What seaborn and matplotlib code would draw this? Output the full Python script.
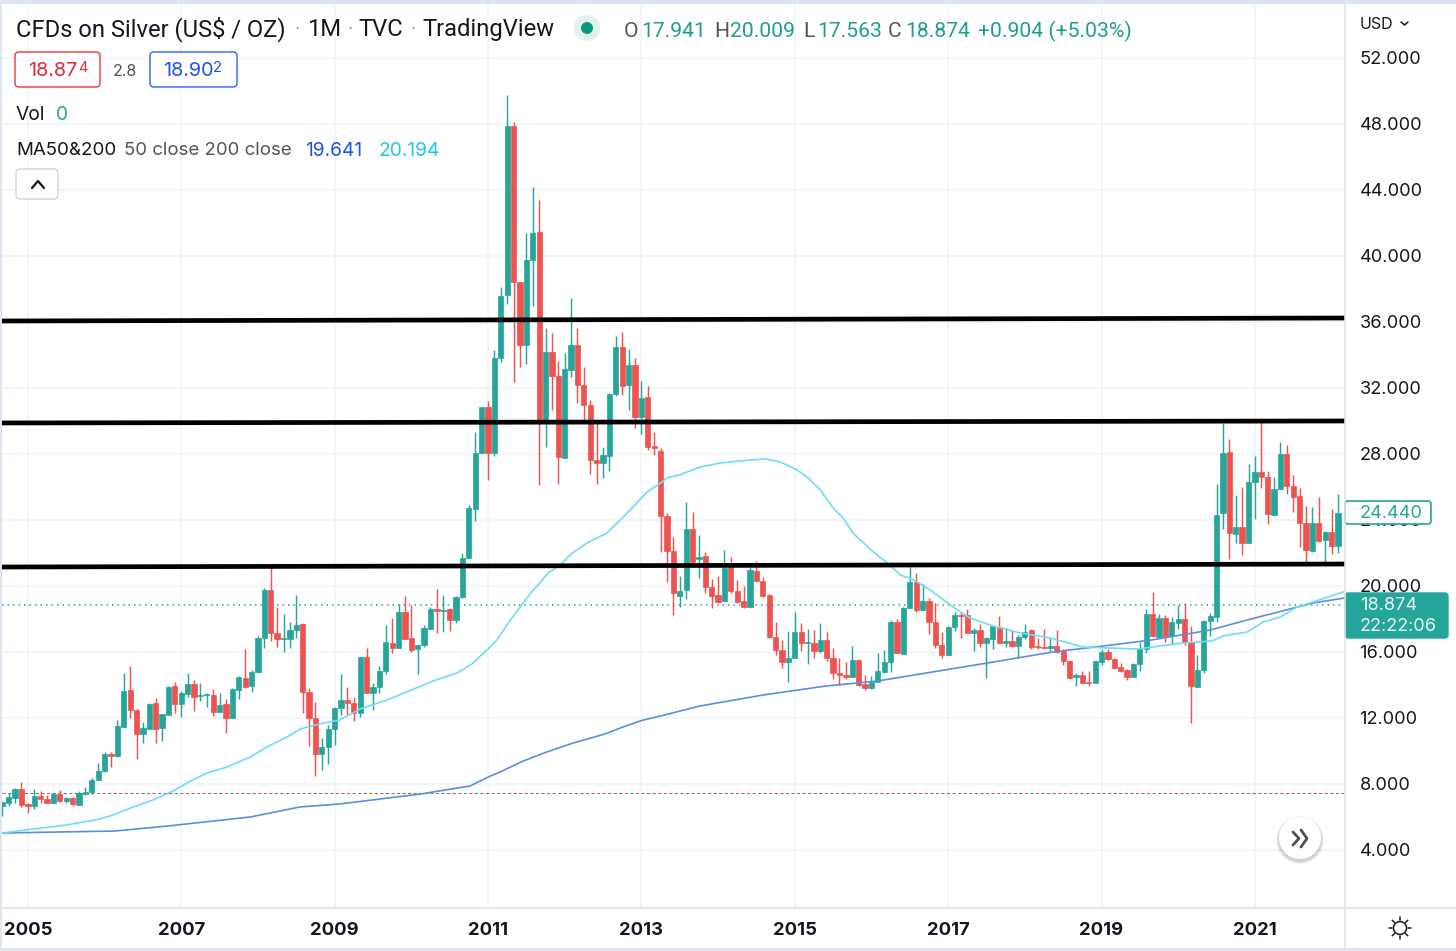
import numpy as np
import pandas as pd
import matplotlib
matplotlib.use("Agg")
import matplotlib.pyplot as plt
from matplotlib.patches import Rectangle, FancyBboxPatch, Circle
import seaborn as sns

# monthly candles, first one is Sep 2004
opens = [6.66,6.83,7.13,7.67,6.77,6.69,7.25,7.07,6.85,7.39,
         6.97,7.15,6.75,7.37,7.51,8.22,8.81,9.84,9.72,11.47,
         13.67,12.48,11.03,11.33,12.89,11.39,12.20,13.94,12.87,13.45,
         14.06,13.33,13.37,13.41,12.38,12.85,12.02,13.70,14.44,13.94,
         14.77,16.85,19.76,17.17,16.79,16.81,17.33,17.67,13.55,11.98,
         9.82,10.22,11.32,12.61,13.09,12.89,12.29,15.72,13.54,13.86,
         14.85,16.54,16.26,18.44,16.85,16.16,16.40,17.37,18.58,18.46,
         18.58,17.94,19.31,21.67,24.66,28.04,30.87,28.04,33.84,37.66,
         47.88,38.45,34.59,39.78,41.43,29.90,34.16,32.75,27.74,33.09,
         34.59,32.18,30.97,27.64,27.44,27.90,31.64,34.49,32.18,33.38,
         30.22,31.44,28.49,28.20,24.24,22.12,19.42,19.76,23.44,21.64,
         21.80,19.92,19.44,19.09,21.17,19.70,19.11,18.75,20.93,20.31,
         19.46,16.93,16.12,15.38,15.62,17.22,16.53,16.57,16.06,16.73,
         15.66,14.75,14.61,14.47,15.52,14.04,13.80,14.20,14.79,15.38,
         17.84,15.88,18.65,20.26,18.54,19.11,17.84,16.42,15.84,17.49,
         18.26,18.22,17.17,17.31,16.56,16.79,17.51,16.56,16.64,16.38,
         16.89,17.33,16.34,16.30,16.26,16.38,16.06,15.45,14.50,14.58,
         14.18,14.10,15.41,15.98,15.57,15.07,14.91,14.50,15.25,16.20,
         18.30,16.89,18.04,16.97,17.78,17.98,16.60,13.88,14.91,17.86,
         18.15,24.41,28.10,23.16,23.60,22.59,26.33,26.93,26.61,24.31,
         25.88,28.00,26.06,25.44,23.84,22.09,23.84,22.79,23.26,22.45]
closes = [6.89,7.21,7.69,6.73,6.69,7.27,7.09,6.85,7.39,6.99,
          7.17,6.79,7.45,7.51,8.22,8.81,9.84,9.72,11.49,13.63,
          12.48,11.05,11.39,12.87,11.33,12.24,13.90,12.87,13.50,14.06,
          13.29,13.37,13.43,12.34,12.81,12.02,13.74,14.46,13.88,14.77,
          16.87,19.76,17.17,16.81,16.83,17.33,17.65,13.55,11.98,9.82,
          10.22,11.31,12.61,13.09,12.89,12.29,15.72,13.54,13.86,14.85,
          16.58,16.26,18.44,16.79,16.12,16.40,17.45,18.58,18.46,18.54,
          17.94,19.33,21.67,24.70,28.04,30.87,28.04,33.84,37.58,47.88,
          38.40,34.59,39.78,41.41,29.86,34.18,32.75,27.84,33.15,34.59,
          32.18,30.97,27.64,27.44,27.94,31.66,34.49,32.14,33.38,30.26,
          31.37,28.45,28.39,24.24,22.12,19.60,19.70,23.44,21.48,21.74,
          19.92,19.42,19.05,21.11,19.70,19.05,18.75,20.97,20.33,19.40,
          16.93,16.12,15.38,15.66,17.22,16.53,16.59,16.08,16.71,15.62,
          14.75,14.61,14.51,15.52,14.00,13.80,14.20,14.85,15.38,17.84,
          15.96,18.69,20.26,18.54,19.11,17.84,16.42,15.82,17.49,18.26,
          18.20,17.17,17.31,16.56,16.83,17.57,16.56,16.64,16.36,16.89,
          17.23,16.32,16.28,16.24,16.38,16.02,15.47,14.44,14.58,14.14,
          14.12,15.45,16.00,15.55,15.03,14.87,14.50,15.25,16.20,18.30,
          16.97,18.06,16.93,17.80,17.98,16.60,13.94,14.91,17.86,18.19,
          24.31,28.08,23.20,23.60,22.59,26.29,26.89,26.61,24.39,25.88,
          27.98,26.06,25.42,23.84,22.17,23.84,22.75,23.28,22.43,24.43]
highs = [6.89,7.43,7.78,8.14,6.83,7.71,7.59,7.33,7.43,7.63,
         7.23,7.23,7.59,7.84,8.36,9.25,9.92,9.92,11.88,14.71,
         15.17,12.52,11.78,12.93,13.19,12.24,13.94,14.18,13.63,14.71,
         14.30,14.10,13.53,13.74,13.49,13.17,13.80,14.54,16.18,14.91,
         16.97,19.88,21.33,18.71,18.30,17.84,19.45,17.78,13.80,12.95,
         10.77,11.58,12.65,14.65,13.90,13.26,15.72,16.23,14.10,15.15,
         17.63,18.08,18.89,19.41,18.85,16.48,17.63,18.75,19.80,19.43,
         18.64,19.41,22.02,24.89,29.35,30.87,31.21,34.30,38.14,49.78,
         48.10,38.45,41.41,44.18,43.39,35.66,35.31,33.66,34.10,37.48,
         35.62,33.25,31.27,29.86,28.45,31.72,35.15,35.39,34.38,33.84,
         32.42,32.12,29.36,28.34,24.41,22.95,20.61,25.07,24.49,23.07,
         22.04,20.45,20.61,22.16,21.78,20.37,20.00,21.17,21.54,20.57,
         19.52,17.84,16.73,17.30,18.45,17.74,17.42,17.34,17.78,17.19,
         16.22,15.62,15.42,16.37,15.56,14.61,14.55,15.92,16.12,17.94,
         17.98,18.75,21.13,20.77,20.12,19.29,18.99,17.23,17.57,18.44,
         18.44,18.62,17.43,17.70,16.89,17.63,18.18,17.43,17.33,17.03,
         17.68,17.37,16.87,17.37,16.83,17.33,16.16,15.51,14.75,14.87,
         14.87,15.47,16.16,16.16,15.61,15.31,14.95,15.31,16.60,18.62,
         19.61,18.30,18.22,18.14,18.85,18.95,17.57,15.80,17.94,18.39,
         26.19,29.86,28.91,25.52,25.98,27.40,27.88,30.06,26.97,26.63,
         28.71,28.55,26.73,25.96,24.85,24.81,25.38,23.36,24.67,25.58]
lows = [6.08,6.66,6.83,6.58,6.26,6.46,6.83,6.83,6.79,6.93,
        6.83,6.66,6.73,7.33,7.37,8.22,8.71,9.05,9.66,11.47,
        11.98,9.49,10.46,11.33,10.46,10.61,12.20,12.32,12.08,13.25,
        12.42,13.03,12.69,12.14,12.38,11.11,12.02,13.13,13.84,13.60,
        14.75,16.26,16.68,16.32,16.02,16.26,16.83,12.28,10.30,8.48,
        8.85,9.21,10.37,12.18,12.18,11.84,12.04,13.54,12.49,13.54,
        14.65,15.92,16.26,16.79,16.02,14.65,16.32,17.37,17.13,17.23,
        17.29,17.74,19.25,21.67,23.96,28.04,26.43,27.90,33.60,37.09,
        32.39,33.29,33.46,36.99,26.12,28.45,30.67,26.18,27.74,32.69,
        31.07,30.06,26.79,26.16,26.53,26.99,31.54,31.56,30.67,29.60,
        29.21,28.24,27.94,22.08,20.27,18.25,18.75,19.19,21.17,20.51,
        19.60,18.69,18.99,19.09,19.60,18.95,18.65,18.71,20.27,19.32,
        16.87,15.82,15.05,14.16,15.62,16.08,15.28,15.62,15.92,15.48,
        14.39,14.00,14.35,14.47,13.94,13.70,13.74,14.20,14.71,14.77,
        15.92,15.86,18.65,18.40,18.54,17.09,16.22,15.62,15.84,17.29,
        16.83,17.13,16.06,16.28,14.40,16.16,16.52,16.32,16.32,15.62,
        16.77,16.18,16.16,16.22,16.06,15.92,15.21,14.34,13.94,14.10,
        13.94,14.10,15.21,15.51,14.97,14.77,14.30,14.50,14.87,15.92,
        16.89,16.89,16.62,16.46,17.37,16.42,11.68,13.88,14.71,16.97,
        17.80,23.44,21.64,22.63,21.86,22.59,24.04,25.92,23.78,24.25,
        25.88,25.56,24.51,22.39,21.46,22.03,22.69,21.46,21.94,21.98]

# moving averages (month index from Sep 2004)
ma50_idx = [0,4.8,10.1,15.3,17.3,20.5,23.6,26.7,28.9,32,35.2,38.8,41.4,44.6,46.6,49.7,52.8,56,60.2,63.3,
            67.4,71.2,73.7,74.8,76,77.4,79.5,81.5,83.1,84.1,85.4,87.3,89.2,91.5,94.6,96.7,98.7,100.9,103,104,
            106,109.2,112.3,115.4,119.4,121.7,124.4,126.1,128,130,131.6,133.1,136.3,138.5,140.5,142.4,145.2,148.3,151.4,155,
            159.3,164,169.1,173.3,177.6,184.8,187.4,189.3,191,194.8,197.3,200,202.6,205.1,209.8]
ma50_val = [5.03,5.27,5.52,5.88,6.12,6.61,7.03,7.58,8.06,8.67,9.03,9.64,10.24,10.85,11.33,11.64,11.88,12.55,13.09,13.58,
            14.24,14.73,15.33,15.76,16.18,16.73,17.94,18.97,19.76,20.18,20.79,21.27,22.00,22.61,23.21,24.00,24.79,25.70,26.24,26.55,
            26.73,27.21,27.45,27.58,27.70,27.52,27.03,26.55,25.82,24.73,24.12,23.21,22.06,21.39,20.67,20.42,19.76,18.85,18.06,17.58,
            17.15,16.85,16.30,16.24,16.18,16.55,16.61,16.67,16.97,17.21,17.82,18.12,18.73,19.03,19.64]
ma200_idx = [0,17.6,25.8,38.8,46.6,52.8,65.4,73.2,76,77.9,81.5,85.2,89.3,94.3,97.1,100.3,103,109.2,119,128.9,
             136.9,154.1,164.4,172.2,179.9,189,194.8,205.1,210]
ma200_val = [5.03,5.15,5.45,6.00,6.61,6.79,7.39,7.88,8.42,8.73,9.39,9.94,10.48,11.03,11.45,11.88,12.12,12.73,13.39,13.94,
             14.24,15.33,16.00,16.36,16.73,17.33,17.94,18.97,19.27]

# the three hand drawn levels, left and right end
level_left = [36.06, 29.88, 21.15]
level_right = [36.24, 30.00, 21.33]

price_ticks = [4, 8, 12, 16, 20, 24, 28, 32, 36, 40, 44, 48, 52]
year_labels = [2005, 2007, 2009, 2011, 2013, 2015, 2017, 2019, 2021]
last_price = 18.874
base_price = 7.45

TEAL = "#26a69a"
RED = "#ef5350"
GRID = "#f0f3fa"
BORDER = "#e0e3eb"
TEXT = "#131722"
GRAY = "#50535e"
W, H = 1456, 951

sns.set_theme(style="white")
plt.rcParams["font.family"] = ["Inter", "DejaVu Sans"]

df = pd.DataFrame({"i": np.arange(len(opens)), "open": opens, "high": highs, "low": lows, "close": closes})
df["up"] = df["close"] >= df["open"]
df["bottom"] = df[["open", "close"]].min(axis=1)
df["body"] = (df["close"] - df["open"]).abs()

fig = plt.figure(figsize=(W / 100, H / 100), dpi=100, facecolor="white")
ax = fig.add_axes([2 / W, 1 - 908 / H, 1343 / W, 904 / H])

# candles
for up, color in [(True, TEAL), (False, RED)]:
    sub = df[df["up"] == up]
    ax.vlines(sub["i"], sub["low"], sub["high"], color=color, lw=1.05, zorder=3)
    sns.barplot(data=sub, x="i", y="body", bottom=sub["bottom"].to_numpy(), native_scale=True,
                color=color, saturation=1, width=0.82, edgecolor=color, linewidth=0.5, zorder=4, ax=ax)

# moving averages
sns.lineplot(x=ma200_idx, y=ma200_val, color="#5b8fdc", lw=1.2, zorder=5, ax=ax)
sns.lineplot(x=ma50_idx, y=ma50_val, color="#6fdcf5", lw=1.2, zorder=5, ax=ax)

# levels and price lines
ax.axhline(base_price, color=RED, lw=0.8, ls=(0, (3, 7)), zorder=2)
ax.axhline(base_price, color=TEAL, lw=0.8, ls=(5, (3, 7)), zorder=2)
ax.axhline(last_price, color=TEAL, lw=1.1, ls=(0, (1, 2.6)), zorder=2)
for left, right in zip(level_left, level_right):
    ax.plot([-0.05, 210.1], [left, right], color="black", lw=3.4, solid_capstyle="butt", zorder=6)

ax.set_xlim(-0.05, 210.1)
ax.set_ylim(0.485, 55.27)
ax.set_xticks([(y - 2004) * 12 - 8 for y in year_labels])
ax.set_xticklabels([str(y) for y in year_labels], fontsize=13.3, fontweight="bold", color=TEXT)
ax.set_yticks(price_ticks)
ax.set_yticklabels([f"{p:.3f}" for p in price_ticks], fontsize=13.1, color=TEXT, va="center_baseline")
ax.yaxis.tick_right()
ax.tick_params(axis="x", length=0, pad=10)
ax.tick_params(axis="y", length=0, pad=10.5)
ax.grid(True, color=GRID, lw=1.2)
ax.set_axisbelow(True)
ax.set_xlabel("")
ax.set_ylabel("")
for side, spine in ax.spines.items():
    spine.set_visible(side == "bottom")
    spine.set_color(BORDER)
    spine.set_linewidth(1.2)

# overlay in pixel coordinates for all the chart furniture
ov = fig.add_axes([0, 0, 1, 1], facecolor="none", zorder=10)
ov.set_xlim(0, W)
ov.set_ylim(H, 0)
ov.axis("off")


def label(x, y, s, color=TEXT, size=13.3, **kw):
    ov.text(x, y + 1.5, s, color=color, fontsize=size, va="center", ha=kw.pop("ha", "left"), **kw)


def box(x0, y0, x1, y1, edge, face="white", lw=1.0, rad=4):
    ov.add_patch(FancyBboxPatch((x0, y0), x1 - x0, y1 - y0, boxstyle=f"round,pad=0,rounding_size={rad}",
                                fc=face, ec=edge, lw=lw))


# page border
ov.add_patch(Rectangle((0, 0), W, 4, color="#dee5f0", lw=0))
ov.add_patch(Rectangle((0, 0), 2, H, color="#dee5f0", lw=0))
ov.add_patch(Rectangle((0, 948), W, 3, color="#dee5f0", lw=0))
ov.plot([1345, 1345], [4, 948], color=BORDER, lw=1.2)
ov.plot([1345, W], [908, 908], color=BORDER, lw=1.2)

# header
head = ["Roboto", "DejaVu Sans"]
label(16, 28, "CFDs on Silver (US$ / OZ)", size=17.1, family=head)
label(295, 28, "·", color="#9598a1", size=13)
label(307, 28, "1M", size=17.1, family=head)
label(348, 28, "·", color="#9598a1", size=13)
label(358, 28, "TVC", size=17.1, family=head)
label(411, 28, "·", color="#9598a1", size=13)
label(422, 28, "TradingView", size=17.1, family=head)
ov.add_patch(Circle((587, 28), 13, color="#e3f1ee", lw=0))
ov.add_patch(Circle((587, 28), 6, color="#089981", lw=0))

for x, s in [(624, "O"), (714, "H"), (803, "L"), (888, "C")]:
    label(x, 30, s, color=GRAY, size=15.2, family=head)
for x, s in [(641, "17.941"), (730, "20.009"), (817, "17.563"), (905, "18.874"), (978, "+0.904 (+5.03%)")]:
    label(x, 30, s, color="#1f9e8c", size=15.2, family=head)

# bid / ask boxes
box(15, 52, 100, 87, "#ef3340")
label(28, 70, "18.87", color="#e3283a", size=14.3)
label(78, 67, "4", color="#e3283a", size=10.5)
label(113, 69.5, "2.8", color=GRAY, size=11.5)
box(150, 52, 237, 87, "#2962ff")
label(163, 70, "18.90", color="#1e53e5", size=14.3)
label(213, 67, "2", color="#1e53e5", size=10.5)

label(16, 113, "Vol", size=13.8)
label(56, 113, "0", color=TEAL, size=13.8)
label(16, 149, "MA50&200", size=13.5)
label(124, 149, "50 close 200 close", color=GRAY, size=13.4)
label(305, 149, "19.641", color="#1e53e5", size=13.8)
label(378, 149, "20.194", color="#22c6ee", size=13.8)

box(16, 169, 58, 199, "#d1d4dc")
ov.plot([32, 38, 44], [188, 181, 188], color=TEXT, lw=1.6)

# right scale
label(1360, 23, "USD", size=11.5)
ov.plot([1401, 1404.5, 1408], [22, 25, 22], color=TEXT, lw=1.1)
box(1345, 501, 1431, 524, TEAL, lw=1.2, rad=3)
label(1360, 512, "24.440", color=TEAL, size=13.1)
box(1345, 593, 1448, 638, TEAL, face=TEAL, rad=3)
label(1360, 604, "18.874", color="#e8f6f4", size=13.1)
label(1360, 625, "22:22:06", color="#e8f6f4", size=13.1)

# scroll button
for r, a in [(24, 0.05), (23, 0.06), (22, 0.07)]:
    ov.add_patch(Circle((1300, 840), r, color="black", alpha=a, lw=0))
ov.add_patch(Circle((1300, 838), 21, color="white", lw=0))
ov.plot([1293, 1299, 1293], [832, 838.5, 845], color="#4a4e5c", lw=2)
ov.plot([1301, 1307, 1301], [830, 838.5, 847], color="#4a4e5c", lw=2)

# theme icon
ov.add_patch(Circle((1400, 928), 6.5, fc="white", ec=TEXT, lw=1.1))
for a in np.arange(0, 2 * np.pi, np.pi / 4):
    ov.plot([1400 + 8 * np.cos(a), 1400 + 11 * np.cos(a)],
            [928 + 8 * np.sin(a), 928 + 11 * np.sin(a)], color=TEXT, lw=1.1)

fig.savefig("out.png", dpi=100, facecolor="white")
